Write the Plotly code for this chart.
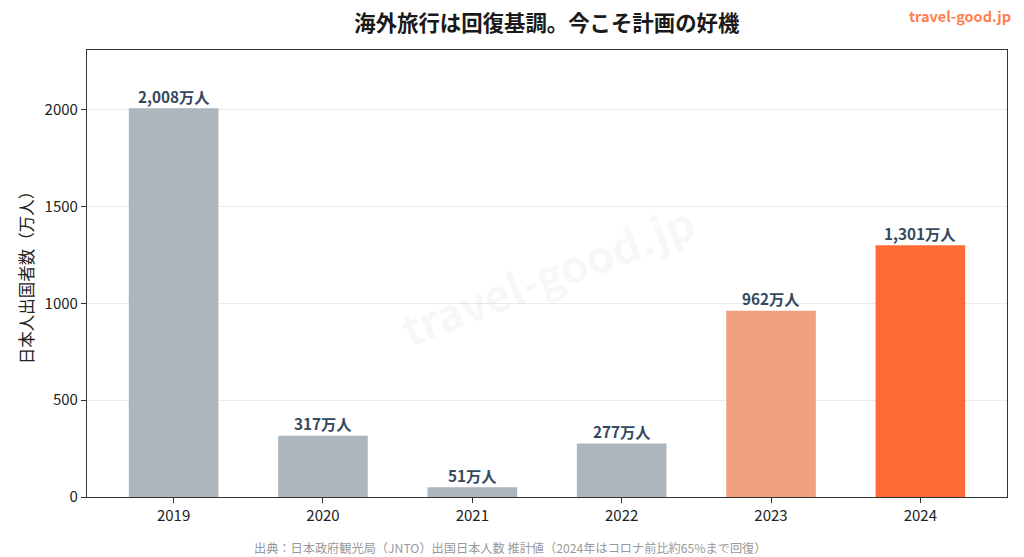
import plotly.graph_objects as go

years = ["2019", "2020", "2021", "2022", "2023", "2024"]
travelers = [2008, 317, 51, 277, 962, 1301]
bar_colors = ["#adb5bd", "#adb5bd", "#adb5bd", "#adb5bd", "#f0a07c", "#ff6b35"]
labels = [f"{v:,}万人" for v in travelers]

FONT = "Noto Sans CJK JP"

fig = go.Figure()
fig.add_trace(go.Bar(
    x=list(range(len(years))), y=travelers, width=0.6,
    marker=dict(color=bar_colors, line=dict(width=0)),
    hoverinfo="skip", showlegend=False,
))

for i, (v, t) in enumerate(zip(travelers, labels)):
    fig.add_annotation(x=i, y=v, text=f"<b>{t}</b>", showarrow=False,
                       yanchor="bottom", yshift=-0.5,
                       font=dict(family=FONT, size=15.3, color="#34495e"))

fig.add_annotation(text="<b>travel-good.jp</b>", xref="paper", yref="paper",
                   x=0.5, y=0.5, showarrow=False, textangle=-21,
                   font=dict(family=FONT, size=44, color="rgba(0,0,0,0.05)"))

fig.add_annotation(text="<b>travel-good.jp</b>", xref="paper", yref="paper",
                   x=1.0, y=1.0, xanchor="right", yanchor="middle",
                   xshift=6, yshift=35, showarrow=False,
                   font=dict(family=FONT, size=14.5, color="#ff7f50"))

fig.add_annotation(text="出典：日本政府観光局（JNTO）出国日本人数 推計値（2024年はコロナ前比約65%まで回復）",
                   xref="paper", yref="paper", x=0.46, y=0, yanchor="middle",
                   yshift=-51, showarrow=False,
                   font=dict(family=FONT, size=12.2, color="#999999"))

fig.update_layout(
    width=1024, height=557,
    margin=dict(l=87, r=17, t=50, b=60),
    paper_bgcolor="white", plot_bgcolor="white",
    title=dict(text="<b>海外旅行は回復基調。今こそ計画の好機</b>", x=0.534, xanchor="center",
               y=0.957, yanchor="middle",
               font=dict(family=FONT, size=21.4, color="#1a1a1a")),
    font=dict(family=FONT, color="#222222"),
    bargap=0.4,
)

fig.update_xaxes(
    range=[-0.58, 5.58], tickmode="array", tickvals=list(range(len(years))),
    ticktext=years, ticks="outside", ticklen=5, tickcolor="#333333",
    showline=True, linecolor="#333333", linewidth=1.2, mirror=True,
    showgrid=False, zeroline=False, tickfont=dict(size=15, color="#222222"),
)
fig.update_yaxes(
    range=[0, 2008 * 1.15], tickvals=[0, 500, 1000, 1500, 2000],
    ticks="outside", ticklen=5, tickcolor="#333333",
    showline=True, linecolor="#333333", linewidth=1.2, mirror=True,
    showgrid=True, gridcolor="#ebebeb", gridwidth=1, zeroline=False,
    tickfont=dict(size=15, color="#222222"),
    title=dict(text="日本人出国者数（万人）", font=dict(size=16.5, color="#222222"), standoff=6),
)

fig.write_html("out.html")
